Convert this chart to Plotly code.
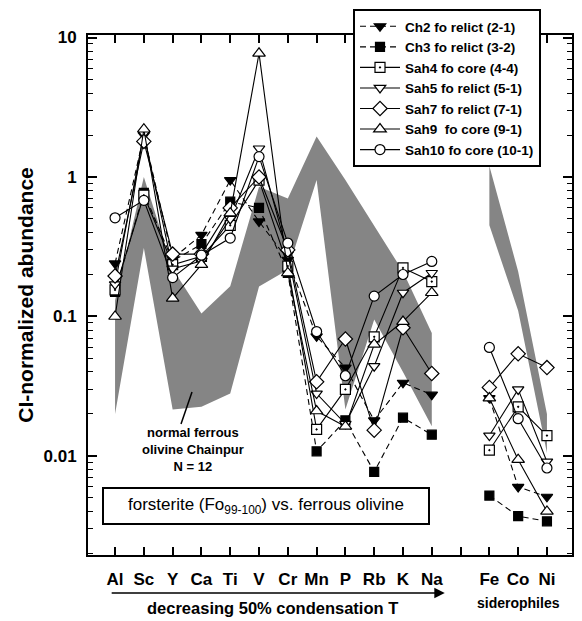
import plotly.graph_objects as go

# ---------------- data ----------------
lith_elements = ["Al", "Sc", "Y", "Ca", "Ti", "V", "Cr", "Mn", "P", "Rb", "K", "Na"]
sidero_elements = ["Fe", "Co", "Ni"]
lith_pos = list(range(1, 13))
sidero_pos = [14, 15, 16]
gap_pos = 13

# CI-normalized abundances (Al ... Na, Fe, Co, Ni)
ch2 = [0.24, 2.0, 0.26, 0.385, 0.95, 0.48, 0.255, 0.072, 0.043, 0.018, 0.0335, 0.0275, 0.026, 0.0060, 0.0051]
ch3 = [0.15, 0.77, 0.25, 0.33, 0.665, 0.60, 0.205, 0.0108, 0.018, 0.0077, 0.0188, 0.0142, 0.0052, 0.0037, 0.0034]
sah4 = [0.155, 0.74, 0.235, 0.27, 0.45, 0.95, 0.23, 0.0155, 0.030, 0.0715, 0.223, 0.178, 0.011, 0.0225, 0.014]
sah5 = [0.17, 2.05, 0.22, 0.25, 0.50, 1.60, 0.28, 0.028, 0.017, 0.044, 0.148, 0.205, 0.014, 0.030, 0.0091]
sah7 = [0.195, 1.8, 0.28, 0.28, 0.60, 1.0, 0.30, 0.034, 0.069, 0.0153, 0.083, 0.039, 0.031, 0.054, 0.043]
sah9 = [0.10, 2.2, 0.135, 0.235, 0.55, 7.7, 0.205, 0.021, 0.0163, 0.063, 0.092, 0.148, 0.026, 0.0094, 0.0040]
sah10 = [0.51, 0.68, 0.19, 0.275, 0.365, 1.40, 0.336, 0.078, 0.0376, 0.14, 0.20, 0.248, 0.060, 0.0185, 0.0082]

series_names = ["Ch2 fo relict (2-1)", "Ch3 fo relict (3-2)", "Sah4 fo core (4-4)",
                "Sah5 fo relict (5-1)", "Sah7 fo relict (7-1)", "Sah9  fo core (9-1)",
                "Sah10 fo core (10-1)"]

# range of normal ferrous olivine in Chainpur (N = 12)
band_upper_lith = [0.13, 1.0, 0.22, 0.105, 0.165, 0.85, 0.70, 1.95, 0.95, 0.45, 0.21, 0.076]
band_lower_lith = [0.020, 0.31, 0.0215, 0.0225, 0.028, 0.164, 0.216, 0.95, 0.0215, 0.095, 0.040, 0.0163]
band_upper_sid = [1.2, 0.21, 0.020]
band_lower_sid = [0.45, 0.11, 0.0105]

# ---------------- styles ----------------
FONT = "Liberation Sans, Arial, sans-serif"
symbols = ["triangle-down", "square", "square-dot", "triangle-down", "diamond", "triangle-up", "circle"]
fills = ["black", "black", "white", "white", "white", "white", "white"]
dashes = ["6px,4px", "6px,4px", "solid", "solid", "solid", "solid", "solid"]
sizes = [10, 9, 10, 10, 11, 11, 10]

x_all = lith_pos + [gap_pos] + sidero_pos


def with_gap(vals):
    return vals[:12] + [None] + vals[12:]


fig = go.Figure()

# gray band (polygons)
fig.add_trace(go.Scatter(
    x=lith_pos + lith_pos[::-1], y=band_upper_lith + band_lower_lith[::-1],
    fill="toself", fillcolor="#858585", line=dict(width=0), mode="lines",
    showlegend=False, hoverinfo="skip"))
fig.add_trace(go.Scatter(
    x=sidero_pos + sidero_pos[::-1], y=band_upper_sid + band_lower_sid[::-1],
    fill="toself", fillcolor="#858585", line=dict(width=0), mode="lines",
    showlegend=False, hoverinfo="skip"))

all_series = [ch2, ch3, sah4, sah5, sah7, sah9, sah10]
for vals, name, sym, fc, dsh, sz in zip(all_series, series_names, symbols, fills, dashes, sizes):
    fig.add_trace(go.Scatter(
        x=x_all, y=with_gap(vals), name=name, mode="lines+markers",
        line=dict(color="black", width=1.1, dash=dsh),
        marker=dict(symbol=sym, size=sz, color=fc, line=dict(color="black", width=1.2)),
        connectgaps=False))

# ---------------- axes ----------------
tickvals = lith_pos + [gap_pos] + sidero_pos
ticktext = lith_elements + [""] + sidero_elements

fig.update_xaxes(
    range=[0.06, 16.87], tickvals=tickvals, ticktext=ticktext,
    ticks="inside", ticklen=8, tickwidth=1.5, tickcolor="black",
    showline=True, linewidth=2, linecolor="black", mirror="ticks",
    showgrid=False, zeroline=False, ticklabelstandoff=8,
    tickfont=dict(family=FONT, size=17, color="black", weight="bold"))

fig.update_yaxes(
    type="log", range=[-2.71, 1.018], tickvals=[0.01, 0.1, 1, 10],
    ticktext=["0.01", "0.1", "1", "10"],
    ticks="inside", ticklen=9, tickwidth=1.5, tickcolor="black",
    minor=dict(ticks="inside", ticklen=5, tickwidth=1.2, tickcolor="black",
               tickvals=[m * 10 ** e for e in range(-3, 2) for m in range(2, 10)], showgrid=False),
    showline=True, linewidth=2, linecolor="black", mirror="ticks",
    showgrid=False, zeroline=False, ticklabelstandoff=6,
    tickfont=dict(family=FONT, size=17, color="black", weight="bold"),
    title=dict(text="CI-normalized abundance", standoff=4,
               font=dict(family=FONT, size=21, color="black", weight="bold")))

# ---------------- layout ----------------
# the page body adds an 8 px margin; the figure is sized and positioned to compensate
OFF = 8
W, H = 582 - OFF, 621 - OFF
L, R, T, B = 88 - OFF, 10, 35 - OFF, 621 - 555
pw, ph = W - L - R, H - T - B


def px2paper(px, py):
    # px, py: pixel position in the 582x621 window
    fx, fy = px - OFF, py - OFF
    return (fx - L) / pw, (H - B - fy) / ph


lx, ly = px2paper(353, 9)
fig.update_layout(
    width=W, height=H, margin=dict(l=L, r=R, t=T, b=B, autoexpand=False),
    paper_bgcolor="white", plot_bgcolor="white",
    font=dict(family=FONT, color="black"),
    legend=dict(x=lx, y=ly, xanchor="left", yanchor="top",
                bgcolor="white", bordercolor="black", borderwidth=2,
                font=dict(family=FONT, size=13.5, color="black", weight="bold"),
                itemwidth=40, tracegroupgap=0),
)

# band label + pointer
tx, ty = px2paper(193, 449)
fig.add_annotation(xref="paper", yref="paper", x=tx, y=ty, showarrow=False,
                   xanchor="center", yanchor="middle",
                   text="normal ferrous<br>olivine Chainpur<br>N = 12",
                   font=dict(family=FONT, size=13, color="black", weight="bold"),
                   align="center")
p0 = px2paper(181, 424)
p1 = px2paper(192, 392)
fig.add_shape(type="line", xref="paper", yref="paper", x0=p0[0], y0=p0[1], x1=p1[0], y1=p1[1],
              line=dict(color="black", width=1.5))

# forsterite box
bx, by = px2paper(266, 506)
fig.add_annotation(xref="paper", yref="paper", x=bx, y=by, showarrow=False,
                   xanchor="center", yanchor="middle",
                   text="forsterite (Fo<sub>99-100</sub>) vs. ferrous olivine",
                   font=dict(family=FONT, size=17, color="black"),
                   bgcolor="white", bordercolor="black", borderwidth=2,
                   width=322, height=32, borderpad=1)

# arrow under lithophile axis labels
_, ay = px2paper(0, 593)
fig.add_annotation(xref="x", yref="paper", x=12.45, y=ay, axref="x", ayref="pixel",
                   ax=0.83, ay=0, showarrow=True, arrowhead=2, arrowsize=1.3,
                   arrowwidth=1.6, arrowcolor="black", text="")
dx, dy = px2paper(272, 608)
fig.add_annotation(xref="paper", yref="paper", x=dx, y=dy, showarrow=False,
                   xanchor="center", yanchor="middle",
                   text="decreasing 50% condensation T",
                   font=dict(family=FONT, size=16.5, color="black", weight="bold"))
sx, sy = px2paper(518, 603)
fig.add_annotation(xref="paper", yref="paper", x=sx, y=sy, showarrow=False,
                   xanchor="center", yanchor="middle",
                   text="siderophiles",
                   font=dict(family=FONT, size=14, color="black", weight="bold"))

fig.write_html("out.html")
